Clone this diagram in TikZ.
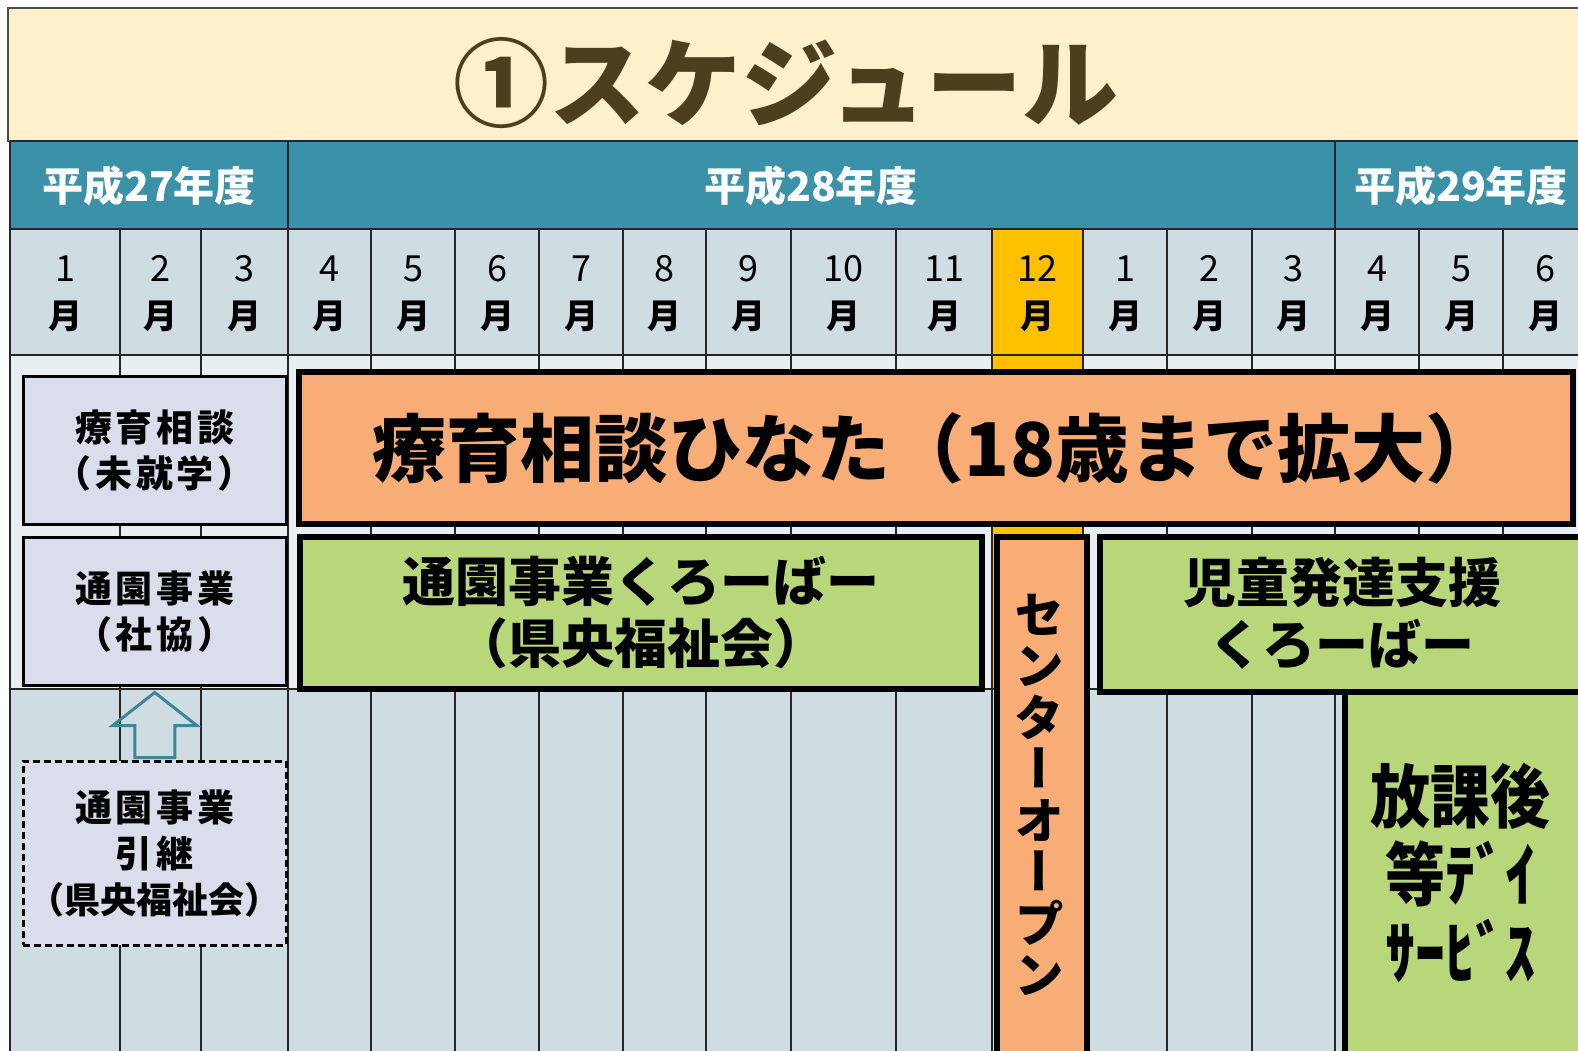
\documentclass[tikz,border=0pt]{standalone}
\usepackage{fontspec}
\usepackage{graphicx}
\usetikzlibrary{calc}
\newfontfamily\jp{Noto Sans CJK JP}
\newfontfamily\jpsp{Noto Sans CJK JP}[LetterSpace=10]
\newfontfamily\jpv{Noto Sans CJK JP}[RawFeature=+vert]
\definecolor{titlebg}{HTML}{FFF0CC}
\definecolor{titletext}{HTML}{4D3E1E}
\definecolor{yearbg}{HTML}{3A91A8}
\definecolor{monthbg}{HTML}{CFDCE2}
\definecolor{rowone}{HTML}{E8EEF2}
\definecolor{rowtwo}{HTML}{CFDCE2}
\definecolor{decbg}{HTML}{FFC000}
\definecolor{leftbg}{HTML}{D9DDEC}
\definecolor{orangebg}{HTML}{F9AD76}
\definecolor{greenbg}{HTML}{B8D67A}
\definecolor{arrowc}{HTML}{3C8797}
\begin{document}
\begin{tikzpicture}[x=1pt,y=-1pt,
  gridl/.style={draw=black!85, line width=1.5pt},
  yearlbl/.style={text=white, font=\jp\bfseries\fontsize{41}{44}\selectfont, inner sep=0},
  monthlbl/.style={align=center, font=\jp\bfseries\fontsize{34}{47}\selectfont, inner sep=0},
  leftbox/.style={draw=black, line width=2.5pt, fill=leftbg, align=center, anchor=north west, inner sep=0,
    font=\jpsp\bfseries\fontsize{37}{46}\selectfont},
  bigbox/.style={draw=black, line width=6pt, align=center, anchor=north west, inner sep=0},
  arrowshape/.style={draw=arrowc, line width=3pt, fill=none, line join=miter}
]
\useasboundingbox (0,0) rectangle (1578,1050);
\clip (0,0) rectangle (1578,1050);
\fill[white] (0,0) rectangle (1578,1050);
% title band
\draw[fill=titlebg, draw=black!70, line width=1.2pt] (8,8) rectangle (1600,141);
\node[text=titletext, font=\jp\bfseries\fontsize{96}{100}\selectfont, inner sep=0] (title) at (786,83) {①スケジュール};
% table backgrounds
\fill[yearbg] (10,141) rectangle (1600,229);
\fill[monthbg] (10,229) rectangle (1600,355);
\fill[rowone] (10,355) rectangle (1600,689);
\fill[rowtwo] (10,689) rectangle (1600,1060);
\fill[decbg] (992,229) rectangle (1083,689);
% grid
\foreach \x in {120,201,288,371,455,539,623,706,791,896,992,1083,1167,1252,1335,1419,1503}
  \draw[gridl] (\x,229) -- (\x,1060);
\draw[gridl] (10,141) -- (10,1060);
\draw[gridl] (288,141) -- (288,229);
\draw[gridl] (1335,141) -- (1335,229);
\foreach \y in {141,229,355,689}
  \draw[gridl] (10,\y) -- (1600,\y);
% year labels
\node[yearlbl] (y27) at (149,186) {平成27年度};
\node[yearlbl] (y28) at (811,186) {平成28年度};
\node[yearlbl] (y29) at (1461,186) {平成29年度};
% month labels
\foreach \a/\b/\m [count=\i] in {10/120/1,120/201/2,201/288/3,288/371/4,371/455/5,455/539/6,539/623/7,623/706/8,706/791/9,791/896/10,896/992/11,992/1083/12,1083/1167/1,1167/1252/2,1252/1335/3,1335/1419/4,1419/1503/5,1503/1587/6}
  \node[monthlbl] (m\i) at ({(\a+\b)/2},294) {{\mdseries\fontsize{36}{47}\selectfont\m}\\月};
% left boxes
\node[leftbox, minimum width=263, minimum height=148] (ryoiku) at (22,375) {療育相談\\（未就学）};
\node[leftbox, minimum width=263, minimum height=148] (tsuen) at (22,536) {通園事業\\（社協）};
\node[leftbox, dashed, dash pattern=on 7pt off 4pt, minimum width=263, minimum height=184,
  font=\jp\bfseries\fontsize{36}{46}\selectfont] (hikitsugi) at (22,760)
  {{\jpsp\fontsize{37}{46}\selectfont 通園事業}\\{\jpsp\fontsize{37}{46}\selectfont 引継}\\（県央福祉会）};
% hollow arrow from the dashed box up to the 社協 box
\coordinate (arrtip) at ($(tsuen.south)+(0,6)$);
\draw[arrowshape] (arrtip) -- ++(42,33) -- ++(-22,0) -- ++(0,32) -- ++(-40,0) -- ++(0,-32) -- ++(-22,0) -- cycle;
% big bars
\node[bigbox, fill=orangebg, minimum width=1274, minimum height=152,
  font=\jp\bfseries\fontsize{74}{80}\selectfont] (hinata) at (296,369) {療育相談ひなた（18歳まで拡大）};
\node[bigbox, fill=greenbg, minimum width=682, minimum height=152,
  font=\jp\bfseries\fontsize{53}{62}\selectfont] (kurobar) at (297,534) {通園事業くろーばー\\（県央福祉会）};
\node[bigbox, fill=orangebg, minimum width=90, minimum height=560] (center) at (994,534) {};
\node[font=\jpv\bfseries\fontsize{50}{51.5}\selectfont, align=center, inner sep=0] (centertxt) at (1039,795) {セ\\ン\\タ\\ー\\オ\\ー\\プ\\ン};
\node[bigbox, fill=greenbg, minimum width=520, minimum height=155] (jido) at (1097,534) {};
\node[font=\jp\bfseries\fontsize{53}{62}\selectfont, align=center, inner sep=0] (jidotxt) at (1342,613) {児童発達支援\\くろーばー};
\node[bigbox, fill=greenbg, minimum width=300, minimum height=400] (houkago) at (1342,689) {};
\node[font=\jp\bfseries\fontsize{60}{78}\selectfont, align=center, inner sep=0] (houkagotxt) at (1460,873)
  {\scalebox{1}[1.15]{放課後}\\\scalebox{1}[1.15]{等ﾃﾞｲ}\\\scalebox{1}[1.15]{ｻｰﾋﾞｽ}};
\end{tikzpicture}
\end{document}
